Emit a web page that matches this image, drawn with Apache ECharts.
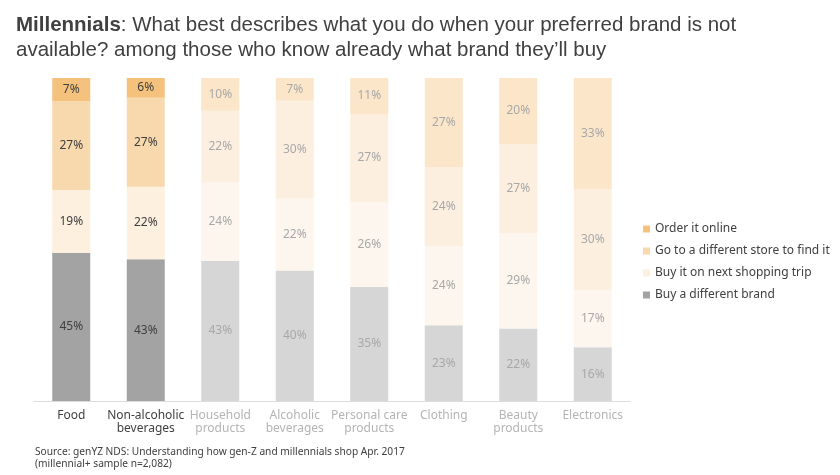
<!DOCTYPE html>
<html>
<head>
<meta charset="utf-8">
<script src="https://cdn.jsdelivr.net/npm/echarts@6/dist/echarts.min.js"></script>
<style>
  html, body { margin: 0; padding: 0; background: #ffffff; }
  #chart { width: 840px; height: 475px; }
</style>
</head>
<body>
<div id="chart"></div>
<script>
// categories and answers (percent of respondents)
var categories = ['Food', 'Non-alcoholic\nbeverages', 'Household\nproducts', 'Alcoholic\nbeverages',
  'Personal care\nproducts', 'Clothing', 'Beauty\nproducts', 'Electronics'];
var differentBrand = [45, 43, 43, 40, 35, 23, 22, 16];
var nextTrip = [19, 22, 24, 22, 26, 24, 29, 17];
var differentStore = [27, 27, 22, 30, 27, 24, 27, 30];
var orderOnline = [7, 6, 10, 7, 11, 27, 20, 33];
var highlighted = 2; // first two categories are emphasised

var totals = categories.map(function (c, i) {
  return differentBrand[i] + nextTrip[i] + differentStore[i] + orderOnline[i];
});

var chart = echarts.init(document.getElementById('chart'));

function makeSeries(name, values, strong, faded) {
  return {
    name: name,
    type: 'bar',
    stack: 'all',
    barWidth: 38,
    itemStyle: { color: strong },
    label: {
      show: true,
      position: 'inside',
      fontSize: 12,
      fontFamily: 'Noto Sans',
      formatter: function (p) { return values[p.dataIndex] + '%'; }
    },
    data: values.map(function (v, i) {
      var hi = i < highlighted;
      return {
        value: v / totals[i] * 100,
        itemStyle: { color: hi ? strong : faded },
        label: { color: hi ? '#3f3f3f' : '#a8a8a8' }
      };
    })
  };
}

chart.setOption({
  backgroundColor: '#ffffff',
  animation: false,
  title: {
    left: 11,
    top: 8,
    text: '{b|Millennials}: What best describes what you do when your preferred brand is not\navailable? among those who know already what brand they\u2019ll buy',
    textStyle: {
      fontFamily: 'Liberation Sans',
      fontSize: 20.5,
      fontWeight: 'normal',
      color: '#404040',
      lineHeight: 25,
      rich: {
        b: { fontFamily: 'Liberation Sans', fontSize: 20.5, fontWeight: 'bold', color: '#404040' }
      }
    }
  },
  legend: {
    orient: 'vertical',
    left: 638,
    top: 218,
    icon: 'rect',
    itemWidth: 7,
    itemHeight: 7,
    itemGap: 10,
    textStyle: { color: '#404040', fontSize: 12, fontFamily: 'Noto Sans' },
    data: ['Order it online', 'Go to a different store to find it', 'Buy it on next shopping trip', 'Buy a different brand']
  },
  graphic: [{
    type: 'text',
    left: 35,
    top: 446,
    style: {
      text: 'Source: genYZ NDS: Understanding how gen-Z and millennials shop Apr. 2017\n(millennial+ sample n=2,082)',
      fill: '#404040',
      fontSize: 10.2,
      lineHeight: 12,
      fontFamily: 'Noto Sans'
    }
  }],
  grid: { left: 34, right: 210, top: 78, bottom: 74 },
  xAxis: {
    type: 'category',
    data: categories,
    axisTick: { show: false },
    axisLine: { lineStyle: { color: '#dddddd' } },
    axisLabel: {
      interval: 0,
      fontSize: 12,
      lineHeight: 13,
      margin: 8,
      fontFamily: 'Noto Sans',
      color: function (v, i) { return i < highlighted ? '#3f3f3f' : '#b4b4b4'; }
    }
  },
  yAxis: { type: 'value', min: 0, max: 100, show: false },
  series: [
    makeSeries('Buy a different brand', differentBrand, '#a3a3a3', '#d6d6d6'),
    makeSeries('Buy it on next shopping trip', nextTrip, '#fdf0de', '#fdf6ee'),
    makeSeries('Go to a different store to find it', differentStore, '#f8d9ae', '#fcefdf'),
    makeSeries('Order it online', orderOnline, '#f5c27d', '#fbe6c9')
  ]
});
</script>
</body>
</html>
